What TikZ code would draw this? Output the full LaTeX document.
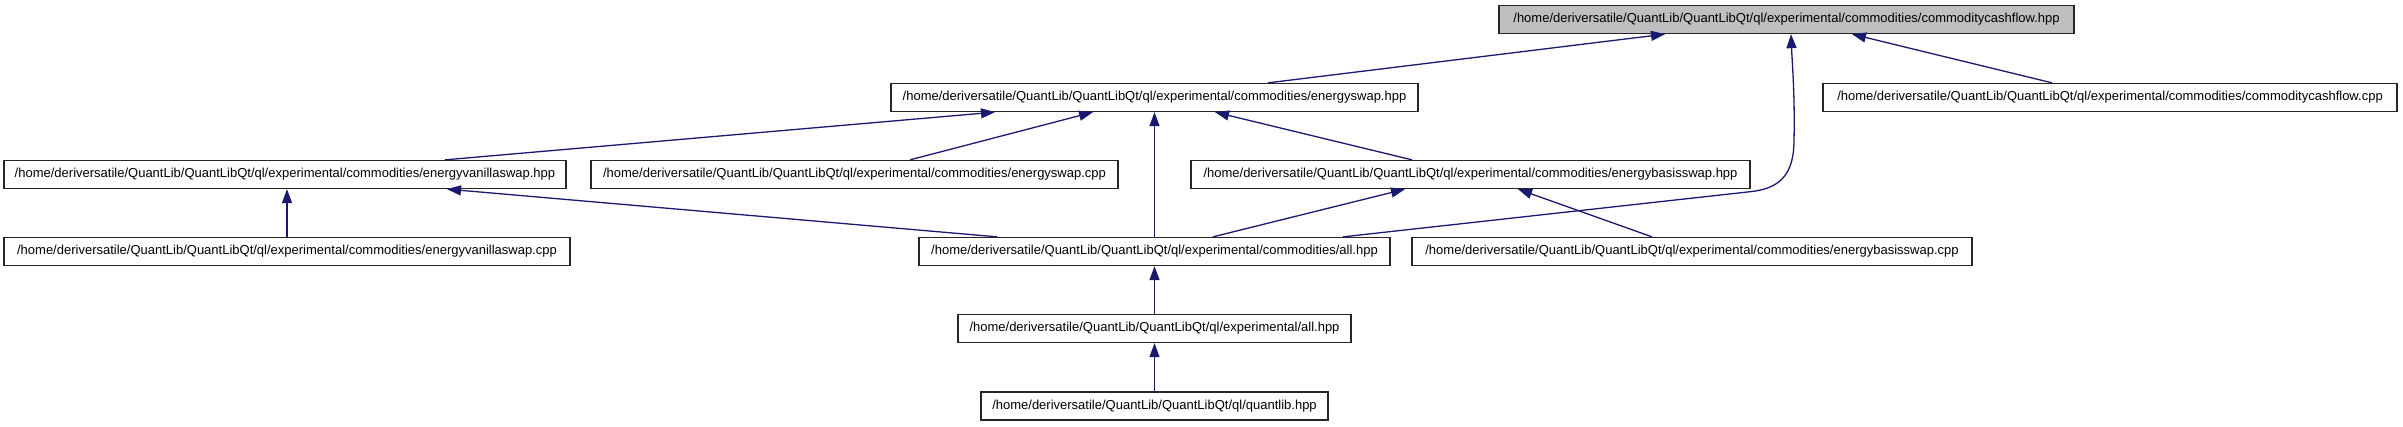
\documentclass[tikz,border=0pt]{standalone}
\usepackage{fontspec}
\setmainfont{Liberation Sans}
\usetikzlibrary{arrows.meta}
\definecolor{edgeblue}{HTML}{191970}
\definecolor{rootgray}{HTML}{BFBFBF}
\begin{document}
\begin{tikzpicture}[x=1pt,y=-1pt,
  file/.style={draw=black!85, line width=1.3pt, fill=white, minimum height=28pt,
    inner sep=0pt, font=\fontsize{13}{15}\selectfont, anchor=center},
  edge/.style={draw=edgeblue, line width=1.3pt, -{Triangle[length=14pt,width=10pt]}}]
\useasboundingbox (0,0) rectangle (2403,427);
% row 0
\node[file, fill=rootgray, minimum width=575pt] (root) at (1786.5,19.5)
  {/home/deriversatile/QuantLib/QuantLibQt/ql/experimental/commodities/commoditycashflow.hpp};
% row 1
\node[file, minimum width=527pt] (eshpp) at (1154.5,97.5)
  {/home/deriversatile/QuantLib/QuantLibQt/ql/experimental/commodities/energyswap.hpp};
\node[file, minimum width=574pt] (cfcpp) at (2110,97.5)
  {/home/deriversatile/QuantLib/QuantLibQt/ql/experimental/commodities/commoditycashflow.cpp};
% row 2
\node[file, minimum width=562pt] (evshpp) at (285,174.5)
  {/home/deriversatile/QuantLib/QuantLibQt/ql/experimental/commodities/energyvanillaswap.hpp};
\node[file, minimum width=527pt] (escpp) at (854.5,174.5)
  {/home/deriversatile/QuantLib/QuantLibQt/ql/experimental/commodities/energyswap.cpp};
\node[file, minimum width=559pt] (ebhpp) at (1470.5,174.5)
  {/home/deriversatile/QuantLib/QuantLibQt/ql/experimental/commodities/energybasisswap.hpp};
% row 3
\node[file, minimum width=566pt] (evscpp) at (287,251.5)
  {/home/deriversatile/QuantLib/QuantLibQt/ql/experimental/commodities/energyvanillaswap.cpp};
\node[file, minimum width=471pt] (allc) at (1154.5,251.5)
  {/home/deriversatile/QuantLib/QuantLibQt/ql/experimental/commodities/all.hpp};
\node[file, minimum width=560pt] (ebcpp) at (1692,251.5)
  {/home/deriversatile/QuantLib/QuantLibQt/ql/experimental/commodities/energybasisswap.cpp};
% row 4
\node[file, minimum width=393pt] (expall) at (1154.5,328.5)
  {/home/deriversatile/QuantLib/QuantLibQt/ql/experimental/all.hpp};
% row 5
\node[file, minimum width=347pt] (ql) at (1154.5,406)
  {/home/deriversatile/QuantLib/QuantLibQt/ql/quantlib.hpp};

% curve helper points
\coordinate (k1) at (1752,191.5);
\coordinate (k2) at (1782,188);
\coordinate (k3) at (1794,172);
\coordinate (k4) at (1794,140);
\coordinate (k5) at (1795,95);
\coordinate (k6) at (1792,60);

% edges (child -> parent)
\draw[edge] ([xshift=113.5pt]eshpp.north) -- ([xshift=-121.5pt]root.south);
\draw[edge] ([xshift=188.5pt]allc.north) -- (k1) .. controls (k2) and (k3) .. (k4)
  .. controls (k5) and (k6) .. ([xshift=4.5pt]root.south);
\draw[edge] ([xshift=-58pt]cfcpp.north) -- ([xshift=65.5pt]root.south);
\draw[edge] ([xshift=160pt]evshpp.north) -- ([xshift=-159.5pt]eshpp.south);
\draw[edge] ([xshift=55.5pt]escpp.north) -- ([xshift=-61.5pt]eshpp.south);
\draw[edge] (allc.north) -- (eshpp.south);
\draw[edge] ([xshift=-58.5pt]ebhpp.north) -- ([xshift=60.5pt]eshpp.south);
\draw[edge] (evscpp.north) -- (evscpp.north |- evshpp.south);
\draw[edge] ([xshift=-157.5pt]allc.north) -- ([xshift=162pt]evshpp.south);
\draw[edge] ([xshift=58.5pt]allc.north) -- ([xshift=-65.5pt]ebhpp.south);
\draw[edge] ([xshift=-40pt]ebcpp.north) -- ([xshift=47.5pt]ebhpp.south);
\draw[edge] (expall.north) -- (allc.south);
\draw[edge] (ql.north) -- (expall.south);
\end{tikzpicture}
\end{document}
